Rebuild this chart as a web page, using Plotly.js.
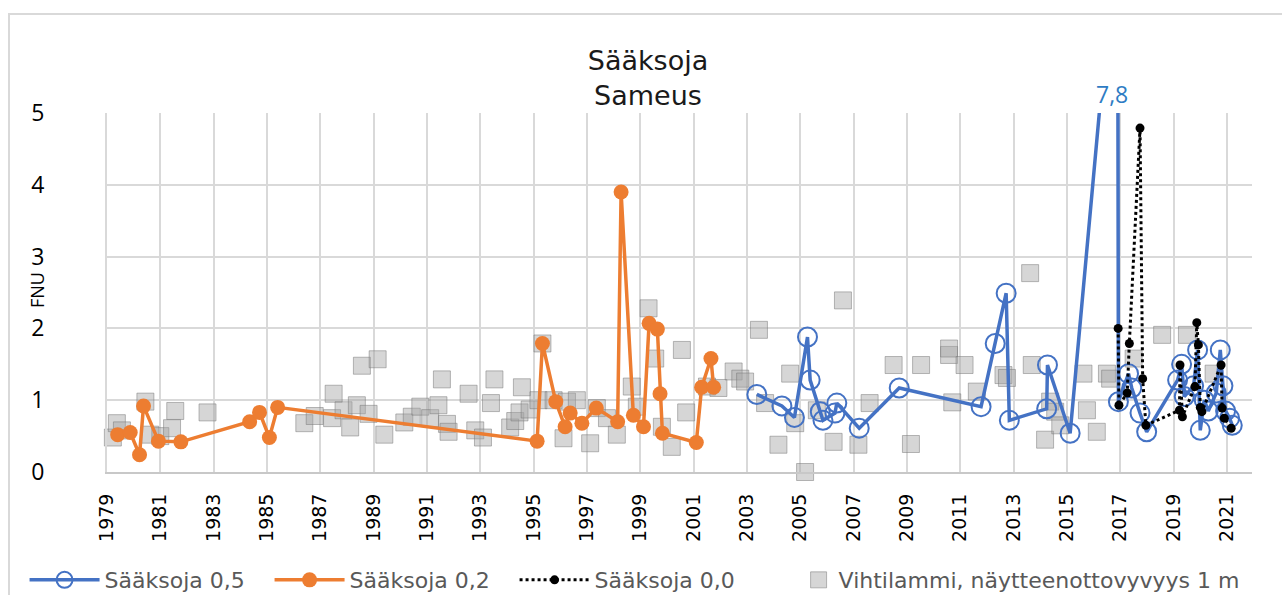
<!DOCTYPE html>
<html>
<head>
<meta charset="utf-8">
<script src="https://cdn.plot.ly/plotly-3.0.1.min.js"></script>
<style>
html,body{margin:0;padding:0;background:#fff;}
#frame{position:absolute;left:8px;top:13px;width:1400px;height:700px;border-left:2px solid #d9d9d9;border-top:2px solid #d9d9d9;}
#chart{position:absolute;left:0;top:0;width:1282px;height:595px;}
</style>
</head>
<body>
<div id="frame"></div>
<div id="chart"></div>
<script>
// Sääksoja 0,5 (blue, open circles)
const blueX = [2003.37, 2004.31, 2004.78, 2005.27, 2005.37, 2005.75, 2005.85, 2006.30, 2006.37, 2007.21, 2008.71, 2011.78, 2012.31, 2012.72, 2012.84, 2014.24, 2014.27, 2015.12, 2016.90, 2016.93, 2017.31, 2017.43, 2017.74, 2017.99, 2019.15, 2019.30, 2019.40, 2019.75, 2019.90, 2020.00, 2020.15, 2020.30, 2020.60, 2020.75, 2020.85, 2020.95, 2021.10, 2021.20];
const blueY = [1.08, 0.92, 0.76, 1.88, 1.28, 0.84, 0.72, 0.82, 0.96, 0.61, 1.17, 0.91, 1.79, 2.49, 0.72, 0.88, 1.49, 0.54, 7.8, 0.98, 1.37, 1.17, 0.82, 0.56, 1.28, 1.50, 1.05, 1.20, 1.70, 0.58, 1.00, 0.85, 1.10, 1.70, 1.20, 0.85, 0.75, 0.65];

// Sääksoja 0,2 (orange, filled circles)
const orangeX = [1979.40, 1979.87, 1980.22, 1980.37, 1980.93, 1981.77, 1984.35, 1984.72, 1985.09, 1985.40, 1995.13, 1995.33, 1995.83, 1996.18, 1996.37, 1996.81, 1997.35, 1998.15, 1998.28, 1998.74, 1999.12, 1999.33, 1999.64, 1999.74, 1999.83, 2001.10, 2001.30, 2001.65, 2001.75];
const orangeY = [0.52, 0.55, 0.24, 0.92, 0.43, 0.42, 0.70, 0.83, 0.48, 0.90, 0.43, 1.79, 0.98, 0.63, 0.82, 0.68, 0.89, 0.70, 3.90, 0.79, 0.63, 2.07, 1.99, 1.09, 0.54, 0.41, 1.18, 1.58, 1.18];

// Sääksoja 0,0 (black dotted)
const blackX = [2016.92, 2016.95, 2017.26, 2017.34, 2017.74, 2017.84, 2017.96, 2019.22, 2019.24, 2019.33, 2019.80, 2019.87, 2019.93, 2020.00, 2020.06, 2020.78, 2020.82, 2020.90, 2021.16];
const blackY = [2.00, 0.93, 1.10, 1.79, 4.79, 1.30, 0.65, 0.86, 1.49, 0.77, 1.19, 2.08, 1.77, 0.90, 0.84, 1.49, 0.89, 0.75, 0.61];

// Vihtilammi, näytteenottovyvyys 1 m (gray squares)
const grayX = [1979.22, 1979.37, 1979.56, 1980.44, 1980.62, 1981.00, 1981.44, 1981.56, 1982.77, 1986.40, 1986.79, 1987.50, 1987.44, 1987.87, 1988.12, 1988.37, 1988.56, 1989.15, 1988.81, 1989.40, 1990.15, 1990.43, 1990.75, 1991.12, 1991.43, 1991.56, 1991.75, 1991.81, 1992.56, 1992.81, 1993.10, 1993.40, 1993.53, 1994.12, 1994.31, 1994.47, 1994.56, 1994.85, 1995.18, 1995.33, 1995.75, 1996.12, 1996.25, 1996.62, 1997.12, 1997.37, 1997.75, 1998.12, 1998.68, 1998.87, 1999.31, 1999.56, 1999.81, 2000.18, 2000.56, 2000.72, 2001.50, 2001.93, 2002.50, 2002.75, 2002.93, 2003.45, 2003.68, 2004.18, 2004.62, 2004.81, 2005.18, 2005.62, 2006.25, 2006.60, 2007.18, 2007.60, 2008.50, 2009.15, 2009.53, 2010.58, 2010.58, 2010.70, 2011.16, 2011.62, 2012.62, 2012.75, 2013.62, 2013.68, 2014.18, 2014.37, 2014.56, 2014.75, 2015.62, 2015.75, 2016.12, 2016.50, 2016.62, 2017.50, 2018.57, 2019.50, 2020.50];
const grayY = [0.48, 0.68, 0.58, 0.98, 0.52, 0.50, 0.61, 0.85, 0.83, 0.68, 0.78, 1.09, 0.75, 0.86, 0.62, 0.93, 1.48, 1.57, 0.81, 0.52, 0.69, 0.77, 0.91, 0.75, 0.93, 1.29, 0.67, 0.56, 1.09, 0.58, 0.48, 0.96, 1.29, 0.62, 0.71, 0.83, 1.18, 0.87, 1.00, 1.79, 1.00, 0.47, 0.98, 1.00, 0.40, 0.89, 0.75, 0.52, 1.19, 0.91, 2.28, 1.58, 0.63, 0.35, 1.70, 0.83, 1.19, 1.17, 1.40, 1.30, 1.26, 1.98, 0.96, 0.38, 1.37, 0.68, 0.00, 0.86, 0.42, 2.39, 0.38, 0.96, 1.49, 0.39, 1.49, 1.63, 1.72, 0.97, 1.49, 1.12, 1.35, 1.31, 2.77, 1.49, 0.45, 0.98, 0.84, 0.65, 1.37, 0.86, 0.56, 1.37, 1.30, 1.58, 1.91, 1.91, 1.37];

const yearTicks = [1979, 1981, 1983, 1985, 1987, 1989, 1991, 1993, 1995, 1997, 1999, 2001, 2003, 2005, 2007, 2009, 2011, 2013, 2015, 2017, 2019, 2021];
const peakLabel = "7,8";

const traces = [
  {
    name: "Vihtilammi, näytteenottovyvyys 1 m", x: grayX, y: grayY, type: "scatter", mode: "markers",
    marker: {symbol: "square", size: 17, color: "rgba(165,165,165,0.45)", line: {color: "rgba(120,120,120,0.5)", width: 1}},
    legend: "legend2", cliponaxis: false
  },
  {
    name: "Sääksoja 0,2", x: orangeX, y: orangeY, type: "scatter", mode: "lines+markers",
    line: {color: "#ED7D31", width: 3.5},
    marker: {symbol: "circle", size: 15, color: "#ED7D31"},
    legendrank: 2
  },
  {
    name: "Sääksoja 0,5", x: blueX, y: blueY, type: "scatter", mode: "lines+markers",
    line: {color: "#4472C4", width: 3.5},
    marker: {symbol: "circle-open", size: 19, color: "#4472C4", line: {width: 2}},
    legendrank: 1
  },
  {
    name: "Sääksoja 0,0", x: blackX, y: blackY, type: "scatter", mode: "lines+markers",
    line: {color: "#000000", width: 3, dash: "dot"},
    marker: {symbol: "circle", size: 9, color: "#000000"},
    legendrank: 3
  }
];

const layout = {
  width: 1282, height: 595,
  margin: {l: 107, r: 30, t: 113, b: 123, autoexpand: false},
  paper_bgcolor: "rgba(0,0,0,0)", plot_bgcolor: "rgba(0,0,0,0)",
  showlegend: true,
  title: {
    text: "Sääksoja<br>Sameus",
    font: {family: "DejaVu Sans", size: 27, color: "#1a1a1a"},
    x: 648 / 1282, xanchor: "center", xref: "container",
    y: 1 - 70 / 595, yanchor: "middle", yref: "container"
  },
  xaxis: {
    range: [1979, 2021.94], tickvals: yearTicks, ticktext: yearTicks.map(String),
    tickangle: -90, ticks: "", ticklabelstandoff: 12,
    tickfont: {family: "DejaVu Sans", size: 19, color: "#000"},
    showgrid: true, gridcolor: "#d9d9d9", gridwidth: 2,
    showline: true, linecolor: "#c8c8c8", linewidth: 2,
    zeroline: false, fixedrange: true
  },
  yaxis: {
    range: [0, 5], tickvals: [0, 1, 2, 3, 4, 5], ticks: "", ticklabelstandoff: 56,
    tickfont: {family: "Open Sans", size: 23, color: "#000"},
    showgrid: true, gridcolor: "#d9d9d9", gridwidth: 2,
    showline: true, linecolor: "#d9d9d9", linewidth: 2,
    zeroline: false, fixedrange: true
  },
  legend: {
    orientation: "h", x: -0.072, xanchor: "left", y: -0.301, yanchor: "middle",
    font: {family: "DejaVu Sans", size: 22, color: "#595959"},
    itemwidth: 70, entrywidth: 160, traceorder: "normal",
    bgcolor: "rgba(0,0,0,0)"
  },
  legend2: {
    orientation: "h", x: 0.604, xanchor: "left", y: -0.301, yanchor: "middle",
    font: {family: "DejaVu Sans", size: 22, color: "#595959"},
    itemwidth: 30, bgcolor: "rgba(0,0,0,0)"
  },
  annotations: [
    {text: peakLabel, x: 2016.69, xref: "x", y: 1, yref: "paper", yanchor: "bottom", yshift: 1,
     showarrow: false, font: {family: "Open Sans", size: 23, color: "#2E7CC4"}},
    {text: "FNU", x: -0.0611, xref: "paper", xanchor: "center", y: 0.507, yref: "paper", yanchor: "middle", textangle: -90,
     showarrow: false, font: {family: "Open Sans", size: 18, color: "#000"}}
  ]
};

Plotly.newPlot("chart", traces, layout, {displayModeBar: false, staticPlot: true});
</script>
</body>
</html>
